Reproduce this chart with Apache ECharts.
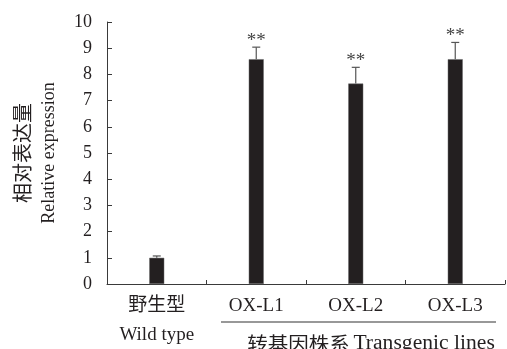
<!DOCTYPE html>
<html>
<head>
<meta charset="utf-8">
<script src="https://cdn.jsdelivr.net/npm/echarts@6/dist/echarts.min.js"></script>
<style>
html,body{margin:0;padding:0;background:#fff;}
#main{width:507px;height:349px;}
</style>
</head>
<body>
<div id="main"></div>
<script>
// ---- data ----
var categories = ['Wild type', 'OX-L1', 'OX-L2', 'OX-L3'];
var categoriesCN = ['野生型', '', '', ''];
var values = [1.0, 8.58, 7.65, 8.58];
var errors = [0.07, 0.46, 0.62, 0.64];
var significance = ['', '**', '**', '**'];
var yTicks = [0, 1, 2, 3, 4, 5, 6, 7, 8, 9, 10];
var groupLabelCN = '转基因株系';
var groupLabelEN = 'Transgenic lines';
var yNameCN = '相对表达量';
var yNameEN = 'Relative expression';

var SERIF = '"Liberation Serif", "DejaVu Serif", serif';
var CJK = '"Noto Sans CJK SC", sans-serif';
var INK = '#231f20';

var chart = echarts.init(document.getElementById('main'), null, {renderer: 'canvas'});

var errData = values.map(function (v, i) { return [i, v, v + errors[i], significance[i]]; });

var option = {
  animation: false,
  backgroundColor: '#fff',
  grid: {left: 107, right: 2, top: 22, bottom: 65, containLabel: false, outerBoundsMode: 'none'},
  xAxis: {
    type: 'category',
    data: categories,
    boundaryGap: true,
    axisLine: {lineStyle: {color: '#3a3a3a', width: 1}},
    axisTick: {show: true, inside: true, length: 4, alignWithLabel: false, lineStyle: {color: '#3a3a3a'}},
    axisLabel: {
      margin: 10,
      interval: 0,
      formatter: function (val, idx) {
        if (categoriesCN[idx]) return '{cn|' + categoriesCN[idx] + '}\n{en2|' + val + '}';
        return '{en|' + val + '}';
      },
      rich: {
        cn: {fontFamily: CJK, fontSize: 19, color: INK, lineHeight: 20},
        en2: {fontFamily: SERIF, fontSize: 19, color: INK, lineHeight: 43},
        en: {fontFamily: SERIF, fontSize: 19, color: INK, lineHeight: 24}
      }
    },
    splitLine: {show: false}
  },
  yAxis: {
    type: 'value',
    min: yTicks[0],
    max: yTicks[yTicks.length - 1],
    interval: 1,
    axisLine: {show: true, lineStyle: {color: '#3a3a3a', width: 1}},
    axisTick: {show: true, inside: true, length: 5, lineStyle: {color: '#3a3a3a'}},
    axisLabel: {margin: 15, fontFamily: SERIF, fontSize: 18, color: INK},
    splitLine: {show: false},
    name: '{cn|' + yNameCN + '}\n{en|' + yNameEN + '}',
    nameLocation: 'middle',
    nameRotate: 90,
    nameGap: 45,
    nameTextStyle: {
      rich: {
        cn: {fontFamily: CJK, fontSize: 20, color: INK, lineHeight: 28},
        en: {fontFamily: SERIF, fontSize: 18, color: INK, lineHeight: 26}
      }
    }
  },
  series: [
    {
      type: 'bar',
      data: values,
      barWidth: 15,
      itemStyle: {color: INK, borderColor: '#6a6a6a', borderWidth: 0.5},
      z: 2
    },
    {
      type: 'custom',
      data: errData,
      z: 3,
      renderItem: function (params, api) {
        var x = api.value(0);
        var lo = api.coord([x, api.value(1)]);
        var hi = api.coord([x, api.value(2)]);
        var half = 4;
        var children = [
          {type: 'line', shape: {x1: lo[0], y1: lo[1], x2: hi[0], y2: hi[1]}, style: {stroke: '#555', lineWidth: 1.2}},
          {type: 'line', shape: {x1: hi[0] - half, y1: hi[1], x2: hi[0] + half, y2: hi[1]}, style: {stroke: '#555', lineWidth: 1.2}}
        ];
        var s = api.value(3);
        if (s) {
          children.push({
            type: 'text',
            style: {x: hi[0], y: hi[1] + 3, text: s, textAlign: 'center', textVerticalAlign: 'bottom',
                    font: '19px ' + SERIF, fill: '#444'}
          });
        }
        return {type: 'group', children: children};
      }
    }
  ],
  graphic: [
    {type: 'line', shape: {x1: 221, y1: 322, x2: 496, y2: 322}, style: {stroke: '#333', lineWidth: 1.2}},
    {
      type: 'text', x: 371, y: 344, scaleX: 1.08,
      style: {
        text: '{cn|' + groupLabelCN + '} {en|' + groupLabelEN + '}',
        textAlign: 'center', textVerticalAlign: 'middle',
        rich: {
          cn: {fontFamily: CJK, fontSize: 19, fill: INK},
          en: {fontFamily: SERIF, fontSize: 20, fill: INK}
        }
      }
    }
  ]
};
chart.setOption(option);
</script>
</body>
</html>
